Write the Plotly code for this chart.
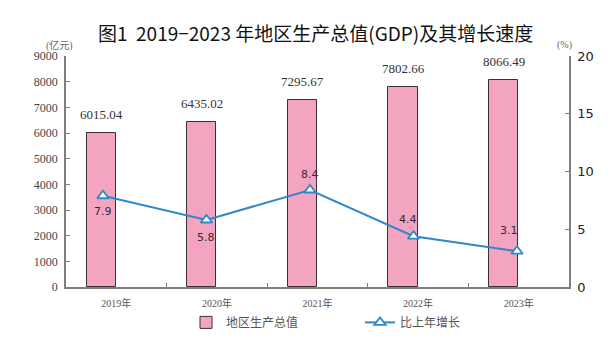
import plotly.graph_objects as go

# 数据
years = ["2019年", "2020年", "2021年", "2022年", "2023年"]
gdp = [6015.04, 6435.02, 7295.67, 7802.66, 8066.49]      # 地区生产总值(亿元)
growth = [7.9, 5.8, 8.4, 4.4, 3.1]                        # 比上年增长(%)

left_ticks = [0, 1000, 2000, 3000, 4000, 5000, 6000, 7000, 8000, 9000]
right_ticks = [0, 5, 10, 15, 20]

# 增长率标签相对标记点的位移(像素):(x, y)
growth_label_shift = [(0, -16), (0, -17), (0, 15), (-6, 17), (-8, 21)]

PINK = "#f2a4c1"
BAR_EDGE = "#3c3034"
BLUE = "#2f88cc"
AXIS = "#7f7f7f"
SERIF = "Liberation Serif, Noto Sans CJK SC, serif"
CJK = "Noto Sans CJK SC, sans-serif"

# 画布与绘图区(像素)
W, H = 615, 349
L, R, T, B = 66, 46, 56, 58
pw, ph = W - L - R, H - T - B


def px_x(x):
    return (x - L) / pw


def px_y(y):
    return (H - B - y) / ph


fig = go.Figure()

fig.add_trace(go.Bar(
    x=years, y=gdp, name="地区生产总值",
    marker=dict(color=PINK, line=dict(color=BAR_EDGE, width=1)),
    width=0.29, offset=-0.295,
    xaxis="x", yaxis="y", legend="legend",
))

fig.add_trace(go.Scatter(
    x=years, y=growth, name="比上年增长", mode="lines+markers",
    line=dict(color=BLUE, width=2),
    marker=dict(symbol="triangle-up", size=10, color="white",
                line=dict(color=BLUE, width=1.8)),
    xaxis="x2", yaxis="y2", legend="legend2",
))

annotations = []
for yr, v in zip(years, gdp):
    annotations.append(dict(
        x=yr, y=v, xref="x", yref="y", text=f"{v:.2f}", showarrow=False,
        xshift=-15, yshift=18, font=dict(family=SERIF, size=13, color="#333333"),
    ))
for yr, v, (dx, dy) in zip(years, growth, growth_label_shift):
    annotations.append(dict(
        x=yr, y=v, xref="x2", yref="y2", text=f"{v:.1f}", showarrow=False,
        xshift=dx, yshift=dy, font=dict(family="DejaVu Sans, sans-serif", size=11, color="#3a2a30"),
    ))

# 标题与单位
annotations.append(dict(
    x=px_x(315), y=px_y(32), xref="paper", yref="paper",
    text="图1  2019−2023 年地区生产总值(GDP)及其增长速度",
    showarrow=False, xanchor="center", yanchor="middle",
    font=dict(family=CJK, size=19, color="#111111"),
))
annotations.append(dict(
    x=px_x(59), y=px_y(45), xref="paper", yref="paper", text="(亿元)", showarrow=False,
    xanchor="center", yanchor="middle", font=dict(family=SERIF, size=10, color="#666666"),
))
annotations.append(dict(
    x=px_x(564), y=px_y(45), xref="paper", yref="paper", text="(%)", showarrow=False,
    xanchor="center", yanchor="middle", font=dict(family=SERIF, size=10, color="#666666"),
))

fig.update_layout(
    width=W, height=H,
    margin=dict(l=L, r=R, t=T, b=B),
    paper_bgcolor="white", plot_bgcolor="white",
    showlegend=True,
    bargap=0,
    xaxis=dict(
        type="category", categoryarray=years, range=[-0.5, 4.5],
        showline=True, linecolor=AXIS, linewidth=1.5,
        ticks="inside", ticklen=4, tickcolor=AXIS, tickson="boundaries",
        tickfont=dict(family=SERIF, size=10, color="#555555"),
        showgrid=False, zeroline=False, ticklabelstandoff=6,
    ),
    xaxis2=dict(
        type="category", categoryarray=years, range=[-0.357, 4.502],
        overlaying="x", visible=False,
    ),
    yaxis=dict(
        range=[0, 9000], tickvals=left_ticks,
        showline=True, linecolor=AXIS, linewidth=1.5,
        ticks="inside", ticklen=4, tickcolor=AXIS,
        tickfont=dict(family=SERIF, size=12, color="#444444"),
        showgrid=False, zeroline=False, ticklabelstandoff=4,
    ),
    yaxis2=dict(
        range=[0, 20], tickvals=right_ticks, overlaying="y", side="right", anchor="x",
        showline=True, linecolor=AXIS, linewidth=1.5,
        ticks="inside", ticklen=4, tickcolor=AXIS,
        tickfont=dict(family="DejaVu Sans, sans-serif", size=13, color="#222222"),
        showgrid=False, zeroline=False, ticklabelstandoff=4,
    ),
    legend=dict(
        orientation="h", x=px_x(186), y=px_y(327),
        xanchor="left", yanchor="middle", bgcolor="rgba(0,0,0,0)",
        font=dict(family=SERIF, size=12, color="#555555"),
    ),
    legend2=dict(
        orientation="h", x=px_x(360), y=px_y(327),
        xanchor="left", yanchor="middle", bgcolor="rgba(0,0,0,0)",
        font=dict(family=SERIF, size=12, color="#555555"),
    ),
    annotations=annotations,
)

fig.write_html("out.html")
